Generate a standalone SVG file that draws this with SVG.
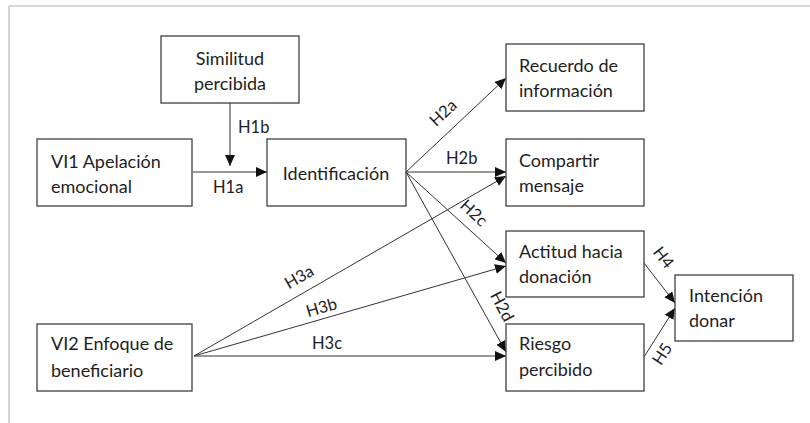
<svg xmlns="http://www.w3.org/2000/svg" width="810" height="423" viewBox="0 0 810 423">
<style>
.box{fill:#fff;stroke:#404040;stroke-width:1.3}
.t{font-family:Lato,"Liberation Sans",sans-serif;font-size:18px;fill:#1e1e1e}
.c{text-anchor:middle}
.lbl{font-family:Lato,"Liberation Sans",sans-serif;font-size:16.5px;fill:#1e1e1e}
.e{stroke:#333;stroke-width:1;fill:none;marker-end:url(#ah)}
.frame{stroke:#d6d6d6;stroke-width:2;fill:none}
</style>
<defs>
<marker id="ah" markerUnits="userSpaceOnUse" markerWidth="12" markerHeight="10" refX="11" refY="5" orient="auto">
<path d="M0,0 L11,5 L0,10 Z" fill="#111"/>
</marker>
</defs>
<rect width="810" height="423" fill="#fff"/>
<path class="frame" d="M9,6 H810 M9,6 V423"/>
<g id="connectors">
<line class="e" x1="230" y1="103" x2="230" y2="166"/>
<line class="e" x1="193" y1="172" x2="267" y2="172"/>
<line class="e" x1="406" y1="172" x2="506" y2="78"/>
<line class="e" x1="406" y1="172" x2="506" y2="172"/>
<line class="e" x1="406" y1="172" x2="506" y2="263"/>
<line class="e" x1="406" y1="172" x2="506" y2="352"/>
<line class="e" x1="194" y1="356" x2="506" y2="176"/>
<line class="e" x1="194" y1="356" x2="506" y2="266"/>
<line class="e" x1="194" y1="356" x2="506" y2="356"/>
<line class="e" x1="644" y1="263" x2="675" y2="303"/>
<line class="e" x1="644" y1="357" x2="675" y2="308"/>
<text class="lbl" x="238" y="133">H1b</text>
<text class="lbl" x="213" y="193">H1a</text>
<text class="lbl" x="446" y="164">H2b</text>
<text class="lbl" x="312" y="349">H3c</text>
<text class="lbl c" transform="translate(447,117) rotate(-43)">H2a</text>
<text class="lbl c" transform="translate(470,217) rotate(43)">H2c</text>
<text class="lbl c" transform="translate(497,309) rotate(62)">H2d</text>
<text class="lbl c" transform="translate(302,282) rotate(-30)">H3a</text>
<text class="lbl c" transform="translate(323,313) rotate(-16)">H3b</text>
<text class="lbl c" transform="translate(659,261) rotate(52)">H4</text>
<text class="lbl c" transform="translate(667,357) rotate(-57)">H5</text>
</g>
<g id="similitud">
<rect class="box" x="161" y="36" width="138" height="67"/>
<text class="t c" x="230" y="65">Similitud</text>
<text class="t c" x="230" y="90">percibida</text>
</g>
<g id="vi1">
<rect class="box" x="37" y="139" width="155" height="67"/>
<text class="t" x="51" y="168">VI1 Apelación</text>
<text class="t" x="51" y="193">emocional</text>
</g>
<g id="identificacion">
<rect class="box" x="267" y="139" width="139" height="67"/>
<text class="t c" x="336" y="180">Identificación</text>
</g>
<g id="recuerdo">
<rect class="box" x="506" y="44" width="138" height="67"/>
<text class="t" x="519" y="72">Recuerdo de</text>
<text class="t" x="519" y="97">información</text>
</g>
<g id="compartir">
<rect class="box" x="506" y="139" width="138" height="67"/>
<text class="t" x="519" y="167">Compartir</text>
<text class="t" x="519" y="192">mensaje</text>
</g>
<g id="actitud">
<rect class="box" x="506" y="231" width="138" height="66"/>
<text class="t" x="519" y="258">Actitud hacia</text>
<text class="t" x="519" y="283">donación</text>
</g>
<g id="riesgo">
<rect class="box" x="506" y="324" width="138" height="67"/>
<text class="t" x="519" y="350">Riesgo</text>
<text class="t" x="519" y="376">percibido</text>
</g>
<g id="vi2">
<rect class="box" x="37" y="324" width="155" height="67"/>
<text class="t" x="51" y="350">VI2 Enfoque de</text>
<text class="t" x="51" y="377">beneficiario</text>
</g>
<g id="intencion">
<rect class="box" x="675" y="275" width="118" height="66"/>
<text class="t" x="689" y="302">Intención</text>
<text class="t" x="689" y="327">donar</text>
</g>
</svg>
